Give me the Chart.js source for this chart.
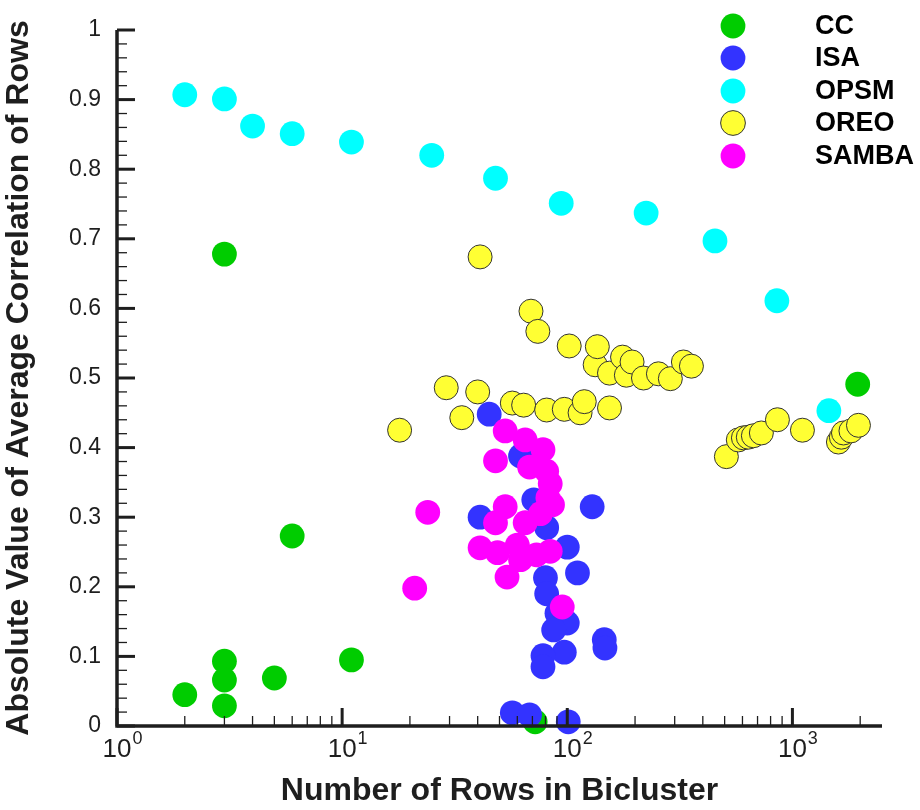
<!DOCTYPE html>
<html>
<head>
<meta charset="utf-8">
<title>Bicluster correlation</title>
<script src="https://cdn.jsdelivr.net/npm/chart.js@4.4.1/dist/chart.umd.min.js"></script>
<style>
  html, body { margin: 0; padding: 0; background: #fff; }
  #wrap { width: 920px; height: 810px; position: relative; }
</style>
</head>
<body>
<div id="wrap"><canvas id="chartCanvas"></canvas></div>
<script>
// values
const ccRows = [2, 3, 3, 3, 3, 5, 6, 11, 72, 1950];
const ccCorr = [0.045, 0.093, 0.066, 0.029, 0.678, 0.069, 0.273, 0.095, 0.006, 0.491];

const isaRows = [45, 62, 71, 129, 41, 81, 100, 111, 80, 81, 90, 100, 87, 146, 147, 97, 78, 78, 57, 68, 101];
const isaCorr = [0.448, 0.388, 0.325, 0.315, 0.300, 0.285, 0.257, 0.220, 0.213, 0.190, 0.162, 0.148, 0.138, 0.124, 0.112, 0.106, 0.101, 0.085, 0.019, 0.016, 0.006];

const opsmRows = [2, 3, 4, 6, 11, 25, 48, 94, 224, 453, 853, 1452];
const opsmCorr = [0.907, 0.901, 0.862, 0.851, 0.839, 0.820, 0.787, 0.751, 0.737, 0.697, 0.611, 0.453];

const oreoRows = [18, 29, 34, 40, 41, 57, 64, 69, 74, 81, 97, 102, 114, 119, 133, 136, 154, 154, 176, 183, 194, 218, 254, 287, 328, 356,
  509, 575, 606, 637, 671, 728, 858, 1108, 1601, 1650, 1686, 1820, 1965];
const oreoCorr = [0.425, 0.486, 0.443, 0.480, 0.674, 0.464, 0.461, 0.596, 0.567, 0.454, 0.455, 0.546, 0.450, 0.466, 0.519, 0.545, 0.507, 0.457, 0.530, 0.504, 0.523, 0.500, 0.506, 0.499, 0.523, 0.517,
  0.387, 0.411, 0.414, 0.415, 0.417, 0.421, 0.440, 0.425, 0.408, 0.415, 0.421, 0.424, 0.432];

const sambaRows = [53, 65, 78, 48, 68, 81, 84, 82, 86, 24, 53, 48, 65, 76, 41, 49, 60, 62, 73, 84, 54, 21, 95];
const sambaCorr = [0.424, 0.411, 0.397, 0.381, 0.372, 0.366, 0.348, 0.328, 0.318, 0.307, 0.315, 0.292, 0.292, 0.305, 0.256, 0.249, 0.260, 0.239, 0.246, 0.251, 0.214, 0.198, 0.171];

const yTicks = [0, 0.1, 0.2, 0.3, 0.4, 0.5, 0.6, 0.7, 0.8, 0.9, 1];
const xDecades = [0, 1, 2, 3];

const FONT = "'Liberation Sans', Arial, sans-serif";
const INK = '#1e1e1e';

function pts(xs, ys) {
  return xs.map((x, i) => ({ x: x, y: ys[i] }));
}

function makeSet(label, xs, ys, color, order, outlined) {
  return {
    label: label,
    data: pts(xs, ys),
    backgroundColor: color,
    borderColor: outlined ? '#333' : color,
    pointRadius: outlined ? 12 : 12.4,
    pointHoverRadius: outlined ? 12 : 12.4,
    pointBorderWidth: outlined ? 1 : 0,
    order: order,
    clip: false
  };
}

// axis lines, inward ticks, decade labels and the legend
const framePlugin = {
  id: 'frame',
  afterDatasetsDraw(chart) {
    const { ctx, chartArea: a, scales: { x, y } } = chart;
    ctx.save();
    ctx.strokeStyle = INK;
    ctx.lineCap = 'butt';

    for (let i = 0; i <= 50; i++) {
      const py = y.getPixelForValue(i / 50);
      const major = i % 5 === 0;
      ctx.lineWidth = major ? 3 : 1.3;
      ctx.beginPath();
      ctx.moveTo(a.left, py);
      ctx.lineTo(a.left + (major ? 18 : 10), py);
      ctx.stroke();
    }

    xDecades.forEach((k) => {
      for (let m = 1; m <= 9; m++) {
        const v = m * Math.pow(10, k);
        if (v > x.max) break;
        const px = x.getPixelForValue(v);
        const major = m === 1;
        ctx.lineWidth = major ? 3 : 1.3;
        ctx.beginPath();
        ctx.moveTo(px, a.bottom);
        ctx.lineTo(px, a.bottom - (major ? 18 : 10));
        ctx.stroke();
      }
    });

    ctx.lineWidth = 3.5;
    ctx.beginPath();
    ctx.moveTo(a.left, a.top);
    ctx.lineTo(a.left, a.bottom);
    ctx.lineTo(a.right, a.bottom);
    ctx.stroke();

    ctx.fillStyle = INK;
    xDecades.forEach((k) => {
      const px = x.getPixelForValue(Math.pow(10, k));
      ctx.font = '26px ' + FONT;
      ctx.textAlign = 'center';
      ctx.textBaseline = 'alphabetic';
      ctx.fillText('10', px, 757);
      const w = ctx.measureText('10').width;
      ctx.font = '18px ' + FONT;
      ctx.textAlign = 'left';
      ctx.fillText(String(k), px + w / 2 + 1, 744);
    });

    // legend
    const rowsY = [26, 58, 91, 123, 156];
    chart.data.datasets.forEach((ds, i) => {
      ctx.beginPath();
      ctx.arc(733, rowsY[i], 12.4, 0, Math.PI * 2);
      ctx.fillStyle = ds.backgroundColor;
      ctx.fill();
      if (ds.pointBorderWidth) {
        ctx.lineWidth = 1;
        ctx.strokeStyle = '#333';
        ctx.stroke();
      }
      ctx.fillStyle = '#000';
      ctx.font = 'bold 27px ' + FONT;
      ctx.textAlign = 'left';
      ctx.textBaseline = 'middle';
      ctx.fillText(ds.label, 815, rowsY[i] + 1);
    });
    ctx.restore();
  }
};

document.addEventListener('DOMContentLoaded', () => {
  const ctx = document.getElementById('chartCanvas').getContext('2d');
  new Chart(ctx, {
    type: 'scatter',
    data: {
      datasets: [
        makeSet('CC', ccRows, ccCorr, '#00cc00', 5, false),
        makeSet('ISA', isaRows, isaCorr, '#3333ff', 2, false),
        makeSet('OPSM', opsmRows, opsmCorr, '#00ffff', 4, false),
        makeSet('OREO', oreoRows, oreoCorr, '#ffff33', 3, true),
        makeSet('SAMBA', sambaRows, sambaCorr, '#ff00ff', 1, false)
      ]
    },
    options: {
      responsive: true,
      maintainAspectRatio: false,
      animation: false,
      layout: { padding: { top: 30, right: 38, left: 0, bottom: 0 } },
      plugins: {
        legend: { display: false },
        tooltip: { enabled: false }
      },
      scales: {
        x: {
          type: 'logarithmic',
          min: 1,
          max: 2500,
          grid: { display: false, drawTicks: false },
          border: { display: false },
          ticks: { display: false },
          title: {
            display: true,
            text: 'Number of Rows in Bicluster',
            color: INK,
            font: { family: FONT, size: 32, weight: 'bold' },
            padding: { top: 0, bottom: 0 }
          },
          afterFit(scale) { scale.height = 84; }
        },
        y: {
          min: 0,
          max: 1,
          grid: { display: false, drawTicks: false },
          border: { display: false },
          afterBuildTicks(scale) { scale.ticks = yTicks.map((v) => ({ value: v })); },
          ticks: {
            color: INK,
            padding: 16,
            font: { family: FONT, size: 23 },
            callback: (v) => (v === 0 ? '0' : v === 1 ? '1' : v.toFixed(1))
          },
          title: {
            display: true,
            text: 'Absolute Value of Average Correlation of Rows',
            color: INK,
            font: { family: FONT, size: 32, weight: 'bold' },
            padding: { top: 0, bottom: 0 }
          },
          afterFit(scale) { scale.width = 117; }
        }
      }
    },
    plugins: [framePlugin]
  });
});
</script>
</body>
</html>
